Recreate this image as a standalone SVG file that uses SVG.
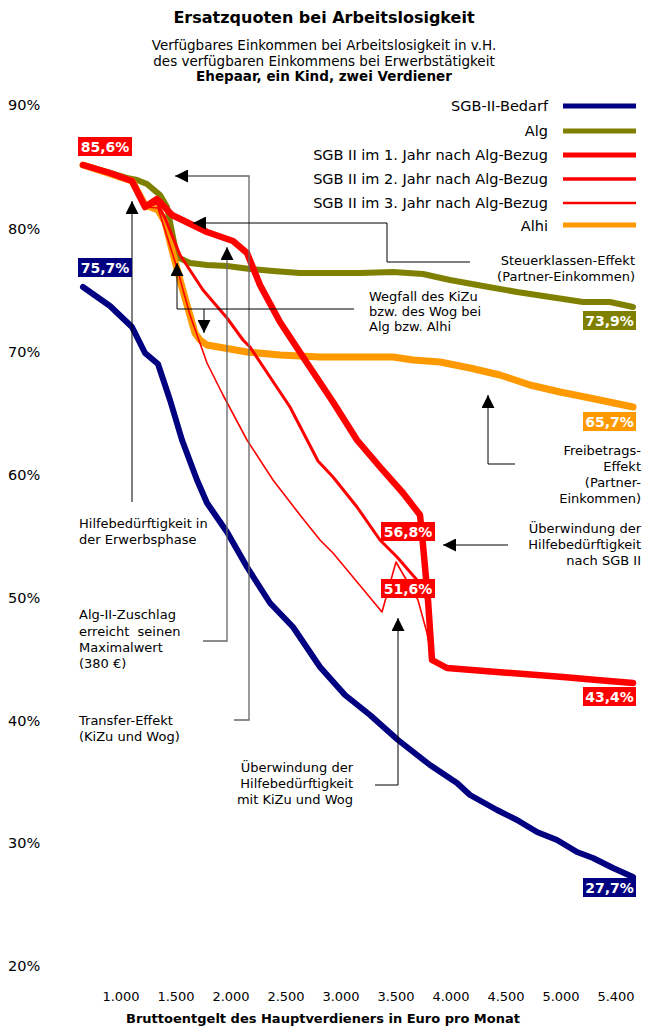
<svg xmlns="http://www.w3.org/2000/svg" width="647" height="1027" viewBox="0 0 647 1027">
<defs>
<style>
text{font-family:"DejaVu Sans","Liberation Sans",sans-serif;font-size:13px;fill:#000}
.t{font-weight:bold;font-size:16px}
.s{font-size:13.5px}
.lg{font-size:14.5px}
.y{font-size:14.5px}
.b{font-weight:bold}
.r{text-anchor:end}
.m{text-anchor:middle}
.lab{font-weight:bold;font-size:14px;fill:#fff;text-anchor:middle}
.c{fill:none;stroke-linejoin:round;stroke-linecap:round}
.a{fill:none;stroke:#000;stroke-width:1}
.g{fill:none;stroke:#666;stroke-width:1.3}
</style>
<marker id="ah" viewBox="0 0 10 10" refX="10" refY="5" markerWidth="13" markerHeight="13" markerUnits="userSpaceOnUse" orient="auto"><path d="M0,0 L10,5 L0,10 z" fill="#000"/></marker>
</defs>
<rect width="647" height="1027" fill="#fff"/>
<g id="title">
<text class="t m" x="324" y="23">Ersatzquoten bei Arbeitslosigkeit</text>
<text class="m s" x="324" y="50">Verfügbares Einkommen bei Arbeitslosigkeit in v.H.</text>
<text class="m s" x="324" y="66">des verfügbaren Einkommens bei Erwerbstätigkeit</text>
<text class="m s b" x="324" y="81">Ehepaar, ein Kind, zwei Verdiener</text>
</g>
<g id="yaxis">
<text class="y" x="8" y="110">90%</text>
<text class="y" x="8" y="234">80%</text>
<text class="y" x="8" y="357">70%</text>
<text class="y" x="8" y="480">60%</text>
<text class="y" x="8" y="603">50%</text>
<text class="y" x="8" y="726">40%</text>
<text class="y" x="8" y="848">30%</text>
<text class="y" x="8" y="971">20%</text>
</g>
<g id="xaxis">
<text class="m" x="121" y="1001">1.000</text>
<text class="m" x="176" y="1001">1.500</text>
<text class="m" x="231" y="1001">2.000</text>
<text class="m" x="286" y="1001">2.500</text>
<text class="m" x="341" y="1001">3.000</text>
<text class="m" x="396" y="1001">3.500</text>
<text class="m" x="451" y="1001">4.000</text>
<text class="m" x="506" y="1001">4.500</text>
<text class="m" x="561" y="1001">5.000</text>
<text class="m" x="616" y="1001">5.400</text>
<text class="m b" x="323" y="1023">Bruttoentgelt des Hauptverdieners in Euro pro Monat</text>
</g>
<g id="legend">
<text class="r lg" x="548" y="111">SGB-II-Bedarf</text>
<text class="r lg" x="548" y="136">Alg</text>
<text class="r lg" x="548" y="160">SGB II im 1. Jahr nach Alg-Bezug</text>
<text class="r lg" x="548" y="184">SGB II im 2. Jahr nach Alg-Bezug</text>
<text class="r lg" x="548" y="208">SGB II im 3. Jahr nach Alg-Bezug</text>
<text class="r lg" x="548" y="231">Alhi</text>
<line x1="563" y1="106" x2="636" y2="106" stroke="#000080" stroke-width="5"/>
<line x1="563" y1="131" x2="636" y2="131" stroke="#808000" stroke-width="5"/>
<line x1="563" y1="155" x2="636" y2="155" stroke="#ff0000" stroke-width="5"/>
<line x1="563" y1="179" x2="636" y2="179" stroke="#ff0000" stroke-width="3.5"/>
<line x1="563" y1="203" x2="636" y2="203" stroke="#ff0000" stroke-width="2.5"/>
<line x1="563" y1="225" x2="636" y2="225" stroke="#ff9900" stroke-width="5"/>
</g>
<g id="series">
<polyline id="sgb2-bedarf" class="c" stroke="#000080" stroke-width="6" points="83,287 110,306 132,327 145,353 158,364 170,400 182,440 197,480 207,503 227,532 247,567 270,603 293,627 320,667 345,695 370,715 398,740 430,765 457,783 470,795 497,810 517,820 537,832 557,840 577,852 593,858 613,868 633,877"/>
<polyline id="alg" class="c" stroke="#808000" stroke-width="6" points="83,165 110,173 127,178 137,180 147,184 160,195 167,207 172,232 177,257 190,263 207,265 227,266 250,269 273,271 300,273 330,273 360,273 393,272 423,274 450,280 483,286 517,292 550,297 583,302 610,302 633,307"/>
<polyline id="alhi" class="c" stroke="#ff9900" stroke-width="7" points="83,165 132,181 145,205 158,210 165,222 172,250 180,280 187,305 195,333 200,340 207,345 247,352 280,355 320,357 393,357 413,360 440,362 470,368 500,375 530,385 560,392 590,398 633,407"/>
<polyline id="sgb2-j3" class="c" stroke="#ff0000" stroke-width="1.6" points="83,165 132,181 145,207 158,208 165,230 177,268 190,315 207,363 223,395 247,440 273,480 300,515 320,540 333,553 382,612 396,562 418,600 427,633 432,660"/>
<polyline id="sgb2-j2" class="c" stroke="#ff0000" stroke-width="3" points="83,165 132,181 145,207 157,203 165,218 180,255 203,290 227,318 243,340 250,347 270,377 290,407 318,461 333,477 357,507 380,540 397,557 417,580 427,600 432,660"/>
<polyline id="sgb2-j1" class="c" stroke="#ff0000" stroke-width="6.5" points="83,165 110,173 132,181 145,207 157,199 172,215 207,232 233,241 247,253 260,285 280,322 307,363 333,402 357,440 380,467 403,493 420,515 423,545 428,600 432,660 447,668 497,672 563,677 597,680 633,683"/>
</g>
<g id="connectors">
<polyline class="a" points="132,502 132,201" marker-end="url(#ah)"/>
<polyline class="g" points="234,720 249,720 249,176 175,176" marker-end="url(#ah)"/>
<polyline class="a" points="470,262 387,262 387,223 193,223" marker-end="url(#ah)"/>
<polyline class="g" points="203,641 227,641 227,247" marker-end="url(#ah)"/>
<polyline class="a" points="354,309 177,309 177,263" marker-end="url(#ah)"/>
<polyline class="a" points="204,309 204,333" marker-end="url(#ah)"/>
<polyline class="a" points="515,464 488,464 488,395" marker-end="url(#ah)"/>
<polyline class="a" points="508,545 443,545" marker-end="url(#ah)"/>
<polyline class="a" points="375,785 398,785 398,618" marker-end="url(#ah)"/>
</g>
<g id="value-labels">
<rect x="78" y="137" width="54" height="19" fill="#ff0000"/><text class="lab" x="105" y="152">85,6%</text>
<rect x="78" y="258" width="54" height="19" fill="#000080"/><text class="lab" x="105" y="273">75,7%</text>
<rect x="583" y="311" width="53" height="19" fill="#808000"/><text class="lab" x="609.5" y="326">73,9%</text>
<rect x="583" y="412" width="53" height="19" fill="#ff9900"/><text class="lab" x="609.5" y="427">65,7%</text>
<rect x="381" y="522" width="54" height="19" fill="#ff0000"/><text class="lab" x="408" y="537">56,8%</text>
<rect x="381" y="579" width="54" height="19" fill="#ff0000"/><text class="lab" x="408" y="594">51,6%</text>
<rect x="583" y="687" width="53" height="19" fill="#ff0000"/><text class="lab" x="609.5" y="702">43,4%</text>
<rect x="583" y="878" width="53" height="19" fill="#000080"/><text class="lab" x="609.5" y="893">27,7%</text>
</g>
<g id="annotations">
<text x="79" y="528">Hilfebedürftigkeit in</text>
<text x="79" y="544">der Erwerbsphase</text>
<text x="79" y="619">Alg-II-Zuschlag</text>
<text x="79" y="636" xml:space="preserve">erreicht  seinen</text>
<text x="79" y="652">Maximalwert</text>
<text x="79" y="668">(380 €)</text>
<text x="79" y="725">Transfer-Effekt</text>
<text x="79" y="741">(KiZu und Wog)</text>
<text class="r" x="353" y="772">Überwindung der</text>
<text class="r" x="353" y="788">Hilfebedürftigkeit</text>
<text class="r" x="353" y="804">mit KiZu und Wog</text>
<text class="r" x="641" y="533">Überwindung der</text>
<text class="r" x="641" y="549">Hilfebedürftigkeit</text>
<text class="r" x="641" y="565">nach SGB II</text>
<text class="r" x="641" y="455">Freibetrags-</text>
<text class="r" x="641" y="471">Effekt</text>
<text class="r" x="641" y="487">(Partner-</text>
<text class="r" x="641" y="503">Einkommen)</text>
<text class="r" x="635" y="265">Steuerklassen-Effekt</text>
<text class="r" x="635" y="281">(Partner-Einkommen)</text>
<text x="369" y="301">Wegfall des KiZu</text>
<text x="369" y="316">bzw. des Wog bei</text>
<text x="369" y="331">Alg bzw. Alhi</text>
</g>
</svg>
